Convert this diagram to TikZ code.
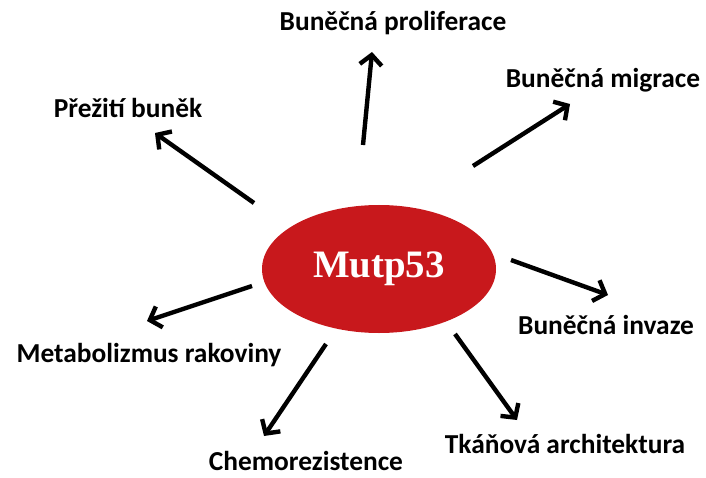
\documentclass[tikz,border=0pt]{standalone}
\usepackage{fontspec}
\setmainfont{Carlito}
\newfontfamily\serifbold{Liberation Serif}
\usepackage{xcolor}
\definecolor{mutred}{RGB}{200,24,28}
\usetikzlibrary{shapes.geometric, arrows.meta, positioning}

\begin{document}
\begin{tikzpicture}[
        x=1bp, y=-1bp,
        core/.style={
            ellipse,
            fill=mutred,
            minimum width=234bp,
            minimum height=128bp,
            inner sep=0pt,
            text=white,
            font=\serifbold\fontsize{39}{42}\selectfont\bfseries
        },
        effect/.style={
            font=\fontsize{27.5}{30}\selectfont\bfseries,
            text=black,
            inner sep=0pt
        },
        arr/.style={
            line width=4.4bp,
            -{Straight Barb[length=10bp, width=22bp, line width=4.4bp]}
        }
    ]

    \useasboundingbox (0,0) rectangle (706,478);

    % Centre
    \node[core] (mut) at (379,269) {Mutp53};

    % Labels
    \node[effect] (prolif) at (393,23) {Buněčná proliferace};
    \node[effect] (migr) at (603,80) {Buněčná migrace};
    \node[effect] (preziti) at (128,108) {Přežití buněk};
    \node[effect] (invaze) at (606,325) {Buněčná invaze};
    \node[effect] (metab) at (149,355) {Metabolizmus rakoviny};
    \node[effect] (chemo) at (306,461) {Chemorezistence};
    \node[effect] (tkan) at (565,444) {Tkáňová architektura};

    % Arrow ends
    \coordinate (a1) at (363,145); \coordinate (b1) at (372,52);
    \coordinate (a2) at (473,166); \coordinate (b2) at (570,104);
    \coordinate (a3) at (254,203); \coordinate (b3) at (155,133);
    \coordinate (a4) at (511,260); \coordinate (b4) at (608,295);
    \coordinate (a5) at (252,286); \coordinate (b5) at (147,321);
    \coordinate (a6) at (326,344); \coordinate (b6) at (264,436);
    \coordinate (a7) at (455,334); \coordinate (b7) at (517,420);

    % Arrows
    \foreach \i in {1,...,7}
        \draw[arr] (a\i) -- (b\i);

\end{tikzpicture}
\end{document}
